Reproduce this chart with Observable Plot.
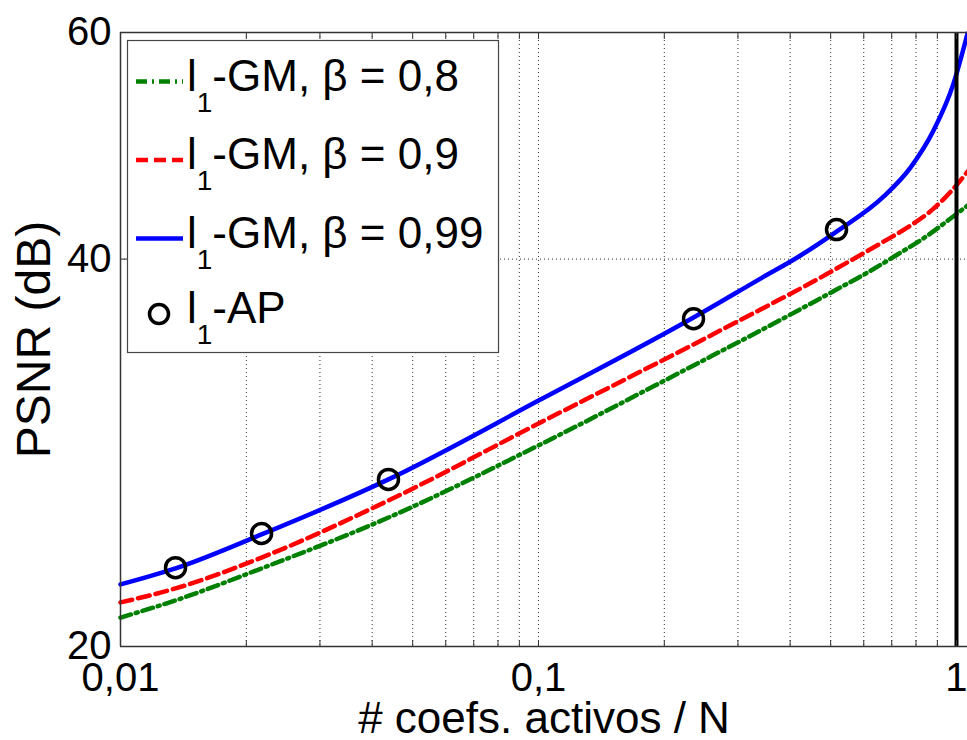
<!DOCTYPE html>
<html>
<head>
<meta charset="utf-8">
<script src="https://cdn.jsdelivr.net/npm/d3@7"></script>
<script src="https://cdn.jsdelivr.net/npm/@observablehq/plot@0.6"></script>
<style>
  html, body { margin: 0; padding: 0; background: #fff; }
  #chart { width: 967px; height: 740px; overflow: hidden; }
</style>
</head>
<body>
<div id="chart"></div>
<script>
// Fraction of active coefficients (log axis) and PSNR in dB for each method
const betaLabels = ["0,8", "0,9", "0,99"];

const gm08X = [0.01, 0.01354, 0.02175, 0.04376, 0.1011, 0.2349, 0.3397, 0.5164, 0.6124, 0.7225, 0.8523, 0.9675, 1.0625];
const gm08Y = [21.06, 21.72, 23.0, 25.19, 28.71, 33.07, 35.2, 37.88, 39.05, 40.33, 41.72, 43.01, 44.02];

const gm09X = [0.01, 0.01354, 0.02175, 0.04376, 0.1011, 0.2349, 0.3397, 0.4234, 0.5164, 0.669, 0.776, 0.881, 0.9836, 1.0625];
const gm09Y = [21.64, 22.19, 23.45, 25.97, 29.86, 34.34, 36.55, 37.95, 39.33, 41.27, 42.47, 43.78, 45.38, 46.78];

const gm099X = [0.01, 0.01354, 0.02175, 0.04376, 0.1011, 0.2349, 0.3397, 0.4234, 0.5164, 0.669, 0.776, 0.881, 0.9836, 1.0625];
const gm099Y = [22.35, 23.0, 24.44, 26.97, 31.11, 36.03, 38.63, 40.26, 42.02, 44.73, 47.12, 50.35, 54.76, 59.89];

// l1-AP results
const apX = [0.01354, 0.02175, 0.04376, 0.2349, 0.5164];
const apY = [23.03, 24.48, 26.97, 35.95, 42.17];

// Axes
const xDomain = [0.01, 1.0625];
const yDomain = [20, 60];
const xTicks = [0.01, 0.1, 1];
const xTickLabels = ["0,01", "0,1", "1"];
const yTicks = [20, 40, 60];
const yTickLabels = ["20", "40", "60"];
const xMinor = [0.02, 0.03, 0.04, 0.05, 0.06, 0.07, 0.08, 0.09, 0.1, 0.2, 0.3, 0.4, 0.5, 0.6, 0.7, 0.8, 0.9];
const yGrid = [40];
const fullRef = [1];

const toRows = (xs, ys) => xs.map((x, i) => ({x, y: ys[i]}));
const green = toRows(gm08X, gm08Y);
const red = toRows(gm09X, gm09Y);
const blue = toRows(gm099X, gm099Y);
const ap = toRows(apX, apY);

const font = "'Liberation Sans', Arial, Helvetica, sans-serif";
const axisColor = "#333";

const svg = Plot.plot({
  width: 967,
  height: 740,
  marginLeft: 120,
  marginRight: 0,
  marginTop: 32,
  marginBottom: 94,
  style: {fontFamily: font, background: "#fff", color: "#000"},
  x: {type: "log", domain: xDomain},
  y: {type: "log", domain: yDomain},
  marks: [
    // dotted grid
    Plot.ruleX(xMinor, {stroke: "#333", strokeWidth: 1, strokeDasharray: "1,3"}),
    Plot.ruleY(yGrid, {stroke: "#333", strokeWidth: 1, strokeDasharray: "1,3"}),
    // curves
    Plot.line(green, {x: "x", y: "y", curve: "monotone-x", stroke: "#008000", strokeWidth: 4.5, strokeDasharray: "11,5,2,5"}),
    Plot.line(red, {x: "x", y: "y", curve: "monotone-x", stroke: "#ff0000", strokeWidth: 4.5, strokeDasharray: "12,6"}),
    Plot.line(blue, {x: "x", y: "y", curve: "monotone-x", stroke: "#0000ff", strokeWidth: 4.5}),
    // reference at x = 1
    Plot.ruleX(fullRef, {stroke: "#000", strokeWidth: 4}),
    Plot.dot(ap, {x: "x", y: "y", r: 10, stroke: "#000", strokeWidth: 3.5, fill: "none"}),
    // box edges
    Plot.ruleX([xDomain[0]], {stroke: axisColor, strokeWidth: 1.5}),
    Plot.ruleY(yDomain, {stroke: axisColor, strokeWidth: 1.5}),
    // inward ticks
    Plot.axisX(xMinor.concat(xTicks), {anchor: "bottom", tickSize: -6, tickFormat: () => "", label: null, stroke: axisColor}),
    Plot.axisX(xMinor.concat(xTicks), {anchor: "top", tickSize: -6, tickFormat: () => "", label: null, stroke: axisColor}),
    Plot.axisY(yTicks, {anchor: "left", tickSize: -7, tickFormat: () => "", label: null, stroke: axisColor}),
    // tick labels
    Plot.axisX(xTicks, {anchor: "bottom", tickSize: 0, tickPadding: 16, fontSize: 40, label: null,
      tickFormat: d => xTickLabels[xTicks.indexOf(d)]}),
    Plot.axisY(yTicks, {anchor: "left", tickSize: 0, tickPadding: 9, fontSize: 40, label: null,
      tickFormat: d => yTickLabels[yTicks.indexOf(d)]}),
    // axis titles
    Plot.text(["# coefs. activos / N"], {frameAnchor: "bottom", textAnchor: "middle", lineAnchor: "bottom", dy: 86, fontSize: 44, fill: "#000"}),
    Plot.text(["PSNR (dB)"], {frameAnchor: "left", textAnchor: "middle", lineAnchor: "middle", dx: -86, rotate: -90, fontSize: 48, fill: "#000"})
  ]
});

// Legend box drawn over the upper-left of the axes
const legendEntries = [
  {label: betaLabels[0], color: "#008000", dash: "11,5,2,5"},
  {label: betaLabels[1], color: "#ff0000", dash: "12,6"},
  {label: betaLabels[2], color: "#0000ff", dash: null}
];
const lg = d3.select(svg).append("g")
  .attr("font-family", font).attr("fill", "#000").attr("text-anchor", "start");
lg.append("rect")
  .attr("x", 127.5).attr("y", 40.5).attr("width", 371).attr("height", 312)
  .attr("fill", "#fff").attr("stroke", "#444").attr("stroke-width", 1.2);

const rowGap = 78.5;
legendEntries.forEach((e, i) => {
  const cy = 81.5 + i * rowGap;
  lg.append("line")
    .attr("x1", 136).attr("x2", 183).attr("y1", cy).attr("y2", cy)
    .attr("stroke", e.color).attr("stroke-width", 4.5)
    .attr("stroke-dasharray", e.dash);
  const t = lg.append("text").attr("x", 187).attr("y", cy + 9).attr("font-size", 44);
  t.append("tspan").text("l");
  t.append("tspan").attr("font-size", 28).attr("dy", 21).text("1");
  t.append("tspan").attr("dy", -21).text(`-GM, β = ${e.label}`);
});
{
  const cy = 81.5 + 3 * rowGap - 3;
  lg.append("circle").attr("cx", 159).attr("cy", cy).attr("r", 9.5)
    .attr("fill", "none").attr("stroke", "#000").attr("stroke-width", 3.5);
  const t = lg.append("text").attr("x", 187).attr("y", cy + 9).attr("font-size", 44);
  t.append("tspan").text("l");
  t.append("tspan").attr("font-size", 28).attr("dy", 21).text("1");
  t.append("tspan").attr("dy", -21).text("-AP");
}

document.getElementById("chart").appendChild(svg);
</script>
</body>
</html>
